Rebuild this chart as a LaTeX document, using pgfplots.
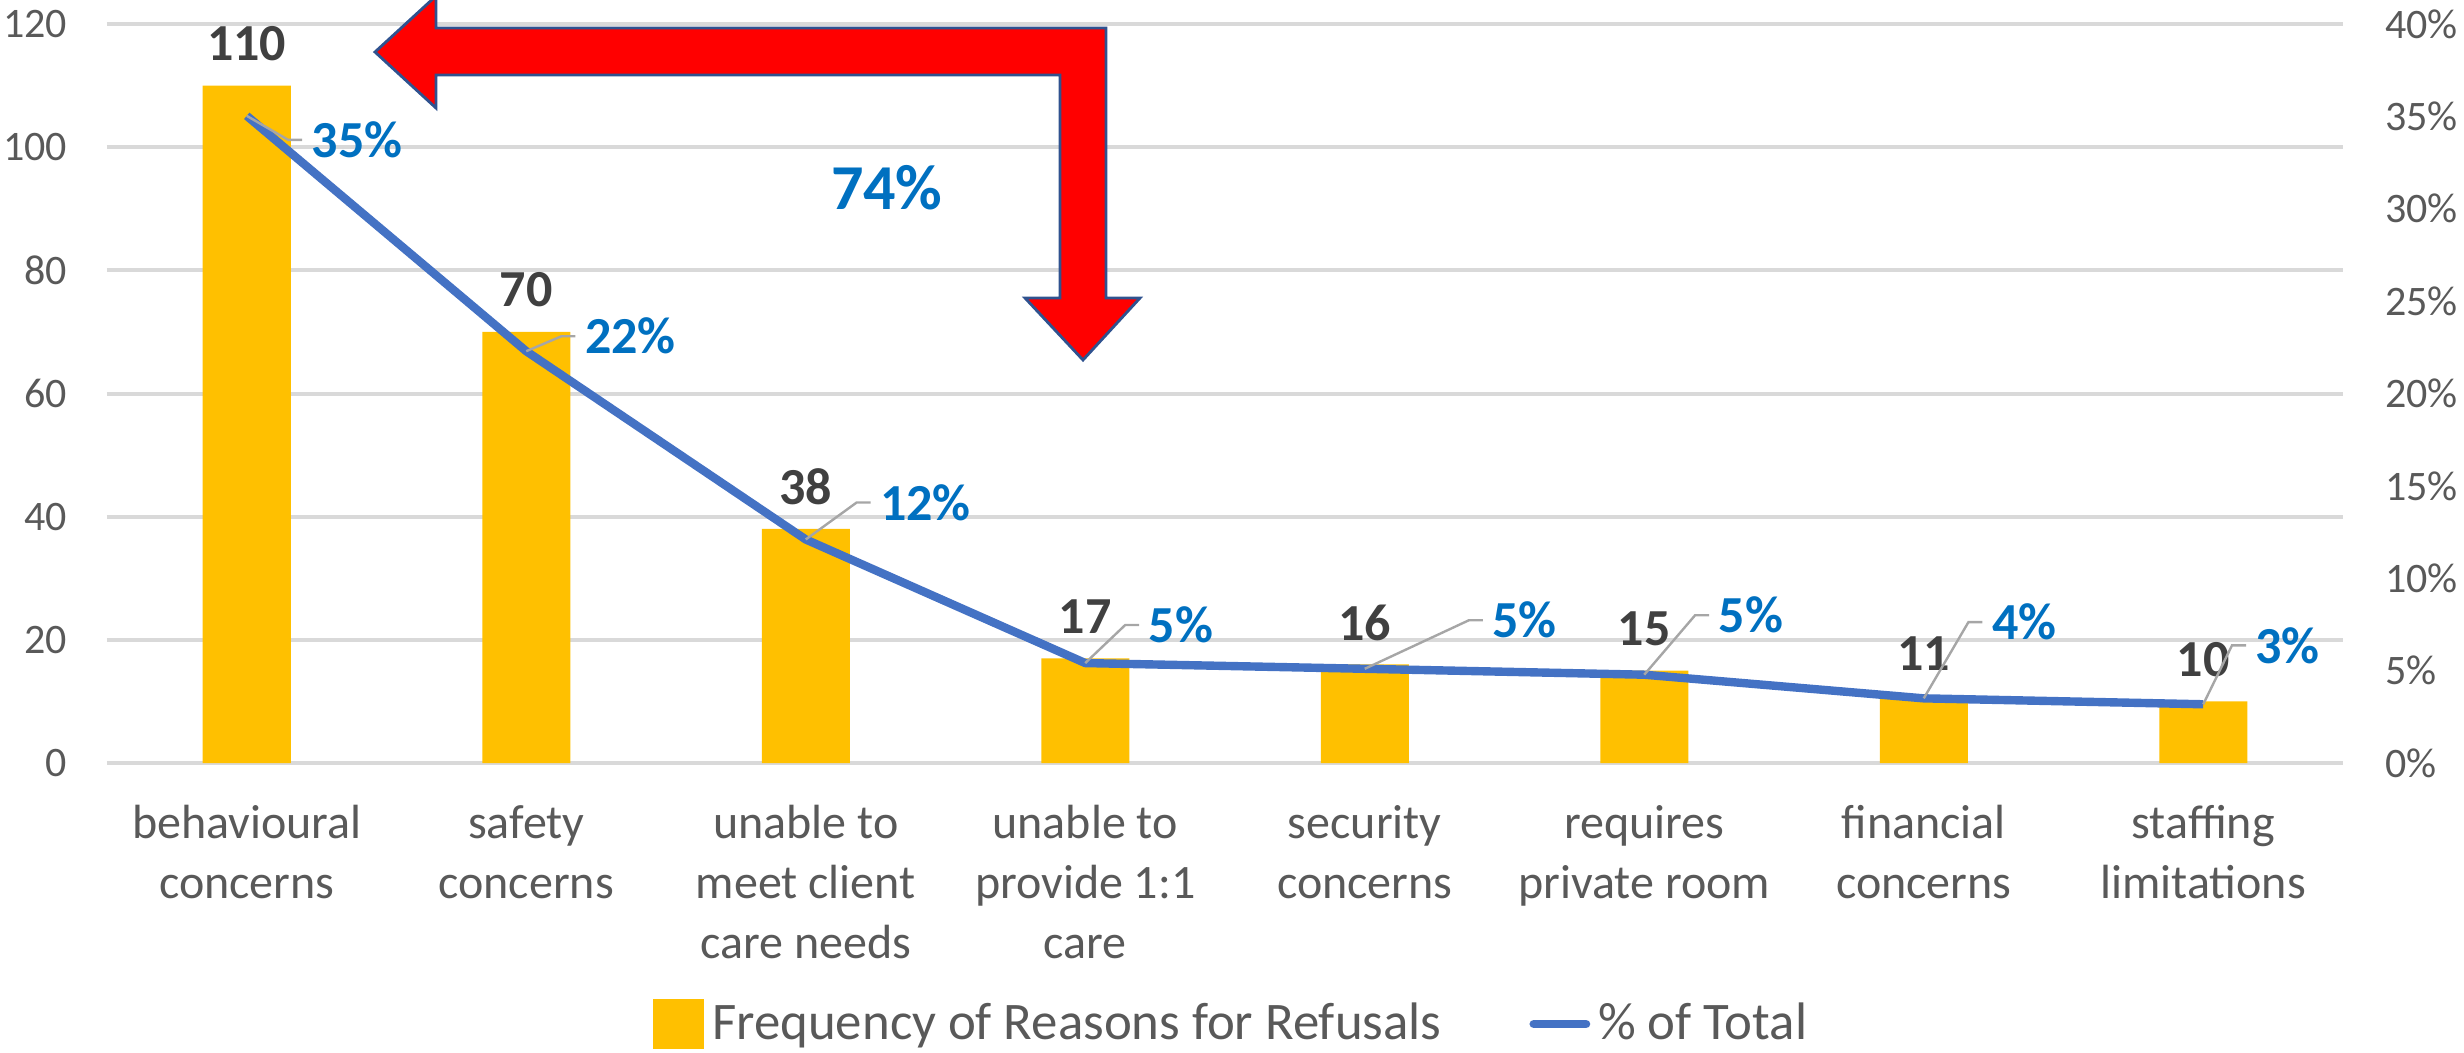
\documentclass[border=0pt]{standalone}
\usepackage{fontspec}
\setmainfont{Carlito}
\usepackage{pgfplots}
\pgfplotsset{compat=1.18}

\definecolor{barc}{HTML}{FFC000}
\definecolor{linec}{HTML}{4472C4}
\definecolor{valc}{HTML}{404040}
\definecolor{pctc}{HTML}{0070C0}
\definecolor{tickc}{HTML}{595959}
\definecolor{gridc}{HTML}{D9D9D9}
\definecolor{leadc}{HTML}{A6A6A6}
\definecolor{arrowedge}{HTML}{2F528F}

\newcommand{\pct}[6]{% x, value, leader x1, leader x2, label y, text
  \draw[leadc, line width=0.6pt] (axis cs:#1,#2) -- (axis cs:#3,#5) -- (axis cs:#4,#5);
  \node[anchor=west, inner sep=0pt, text=pctc, font=\bfseries\fontsize{13}{13}\selectfont]
    at (axis cs:#4,#5) {\hspace{2.2pt}#6};}

\begin{document}
\begin{tikzpicture}
\pgfplotsset{
  common/.style={
    at={(0,0)}, anchor=south west,
    scale only axis, width=559pt, height=184.75pt,
    xmin=-0.5, xmax=7.5,
    major tick length=0pt,
    axis line style={draw=none},
    /pgf/number format/assume math mode=true,
  }
}
% bars, left axis
\begin{axis}[common,
    ymin=0, ymax=120,
    ytick={0,20,...,120},
    xtick={0,...,7},
    xticklabels={{behavioural\\concerns},{safety\\concerns},{unable to\\meet client\\care needs},
      {unable to\\provide 1:1\\care},{security\\concerns},{requires\\private room},
      {financial\\concerns},{staffing\\limitations}},
    xticklabel style={align=center, text=tickc, font=\fontsize{12}{15}\selectfont, yshift=-7pt},
    yticklabel style={text=tickc, font=\fontsize{10.5}{12.6}\selectfont, xshift=-6.5pt},
    ymajorgrids, grid style={gridc, line width=1pt},
    ybar, bar width=22pt,
    nodes near coords,
    every node near coord/.append style={anchor=center, yshift=10.5pt, text=valc,
      font=\bfseries\fontsize{13}{13}\selectfont},
]
\addplot[fill=barc, draw=none] coordinates {
(0,110) (1,70) (2,38) (3,17) (4,16) (5,15) (6,11) (7,10)
};
\node[text=pctc, font=\bfseries\fontsize{16}{16}\selectfont] at (axis cs:2.29,93.5) {74\%};
\end{axis}
% cumulative share, right axis
\begin{axis}[common,
    ymin=0, ymax=40,
    hide x axis,
    axis y line*=right,
    ytick={0,5,...,40},
    yticklabel={\pgfmathprintnumber{\tick}\%},
    yticklabel style={text=tickc, font=\fontsize{10.5}{12.6}\selectfont, xshift=7pt},
    legend style={at={(0.504,-0.3532)}, anchor=center, draw=none, fill=none,
      legend columns=2, text=tickc, font=\fontsize{13.2}{15}\selectfont,
      /tikz/every even column/.append style={column sep=20pt}},
    legend cell align=left,
]
\addlegendimage{legend image code/.code={\fill[barc] (0pt,-6pt) rectangle (12.5pt,6pt);}}
\addlegendentry{Frequency of Reasons for Refusals}
\addplot[linec, line width=2.1pt, mark=none, line join=round,
  legend image code/.code={\draw[linec, line width=2.2pt, line cap=round] (0pt,0pt) -- (13pt,0pt);}]
  coordinates {
(0,35.03) (1,22.29) (2,12.10) (3,5.41) (4,5.10) (5,4.78) (6,3.50) (7,3.18)
};
\addlegendentry{\% of Total}
\pct{0}{35.03}{0.148}{0.198}{33.73}{35\%}
\pct{1}{22.29}{1.126}{1.176}{23.1}{22\%}
\pct{2}{12.10}{2.182}{2.232}{14.1}{12\%}
\pct{3}{5.41}{3.143}{3.193}{7.47}{5\%}
\pct{4}{5.10}{4.373}{4.423}{7.73}{5\%}
\pct{5}{4.78}{5.182}{5.232}{8.0}{5\%}
\pct{6}{3.50}{6.160}{6.210}{7.63}{4\%}
\pct{7}{3.18}{7.103}{7.153}{6.37}{3\%}
\end{axis}
% bent arrow annotation
\fill[red, draw=arrowedge, line width=0.7pt, line join=miter]
  (67pt,177.75pt) -- (82.25pt,191.75pt) -- (82.25pt,183.75pt) -- (249.75pt,183.75pt)
  -- (249.75pt,116.25pt) -- (258.25pt,116.25pt) -- (244pt,100.75pt) -- (229.5pt,116.25pt)
  -- (238.25pt,116.25pt) -- (238.25pt,172pt) -- (82.25pt,172pt) -- (82.25pt,163.75pt) -- cycle;
\pgfresetboundingbox
\path (-26.75pt,-72.25pt) rectangle (589.25pt,190.75pt);
\end{tikzpicture}
\end{document}
